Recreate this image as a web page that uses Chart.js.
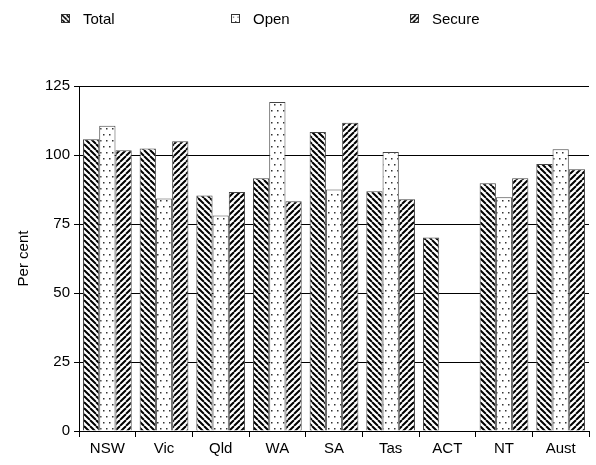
<!DOCTYPE html>
<html>
<head>
<meta charset="utf-8">
<script src="https://cdn.jsdelivr.net/npm/chart.js@4"></script>
<style>
  body { margin: 0; background: #fff; font-family: "Liberation Sans", Arial, sans-serif; }
  #wrap { position: relative; width: 596px; height: 465px; }
  .leg { position: absolute; top: 10px; font-size: 15px; color: #000; display: flex; align-items: center; }
  .leg canvas { width: 9px; height: 9px; margin-right: 13px; border: 1px solid #333; box-sizing: border-box; }
</style>
</head>
<body>
<div id="wrap">
  <canvas id="chart" width="596" height="465"></canvas>
  <div class="leg" style="left:61px"><canvas id="lg0" width="9" height="9"></canvas>Total</div>
  <div class="leg" style="left:231px"><canvas id="lg1" width="9" height="9"></canvas>Open</div>
  <div class="leg" style="left:410px"><canvas id="lg2" width="9" height="9"></canvas>Secure</div>
</div>
<script>
const categories = ['NSW', 'Vic', 'Qld', 'WA', 'SA', 'Tas', 'ACT', 'NT', 'Aust'];
const seriesNames = ['Total', 'Open', 'Secure'];
const totalValues = [105.7, 102.4, 85.3, 91.6, 108.3, 86.9, 70.1, 89.8, 96.7];
const openValues = [110.6, 84.2, 78.1, 119.2, 87.5, 101.1, null, 84.7, 102.1];
const secureValues = [101.7, 105.0, 86.6, 83.2, 111.7, 84.0, null, 91.6, 94.8];
const yTicks = [0, 25, 50, 75, 100, 125];

function stripes(dir) {
    const c = document.createElement('canvas');
    c.width = 6; c.height = 6;
    const g = c.getContext('2d');
    g.fillStyle = '#fff';
    g.fillRect(0, 0, 6, 6);
    g.strokeStyle = '#000';
    g.lineWidth = 2;
    g.beginPath();
    for (let k = -6; k <= 12; k += 6) {
        if (dir > 0) { g.moveTo(k, 0); g.lineTo(k + 6, 6); }
        else { g.moveTo(k + 6, 0); g.lineTo(k, 6); }
    }
    g.stroke();
    return c;
}

function dots() {
    const c = document.createElement('canvas');
    c.width = 6; c.height = 12;
    const g = c.getContext('2d');
    g.fillStyle = '#fff';
    g.fillRect(0, 0, 6, 12);
    g.fillStyle = '#333';
    g.fillRect(1, 2, 1.5, 1.5);
    g.fillRect(4, 8, 1.5, 1.5);
    return c;
}

const ctx = document.getElementById('chart').getContext('2d');
const tiles = [stripes(1), dots(), stripes(-1)];
const fills = tiles.map(t => ctx.createPattern(t, 'repeat'));

tiles.forEach((t, i) => {
    const lc = document.getElementById('lg' + i).getContext('2d');
    lc.fillStyle = lc.createPattern(t, 'repeat');
    lc.fillRect(0, 0, 9, 9);
});

const font = { family: 'Liberation Sans', size: 15 };

new Chart(ctx, {
    type: 'bar',
    data: {
        labels: categories,
        datasets: [totalValues, openValues, secureValues].map((d, i) => ({
            label: seriesNames[i],
            data: d,
            backgroundColor: fills[i],
            borderColor: '#444',
            borderWidth: 1,
            barPercentage: 1,
            categoryPercentage: 0.86
        }))
    },
    options: {
        responsive: false,
        animation: false,
        layout: { padding: { top: 86, right: 7, left: 11, bottom: 4 } },
        plugins: {
            legend: { display: false },
            tooltip: { enabled: false }
        },
        scales: {
            x: {
                grid: { offset: true, drawOnChartArea: false, drawTicks: true, tickLength: 6, color: '#000' },
                border: { color: '#000' },
                ticks: { color: '#000', font: font, padding: 3 }
            },
            y: {
                min: 0,
                max: 125,
                afterBuildTicks: axis => { axis.ticks = yTicks.map(v => ({ value: v })); },
                grid: { color: '#000', tickLength: 5 },
                border: { color: '#000' },
                ticks: { color: '#000', font: font, padding: 4 },
                title: { display: true, text: 'Per cent', color: '#000', font: font, padding: { bottom: 8 } }
            }
        }
    }
});
</script>
</body>
</html>
